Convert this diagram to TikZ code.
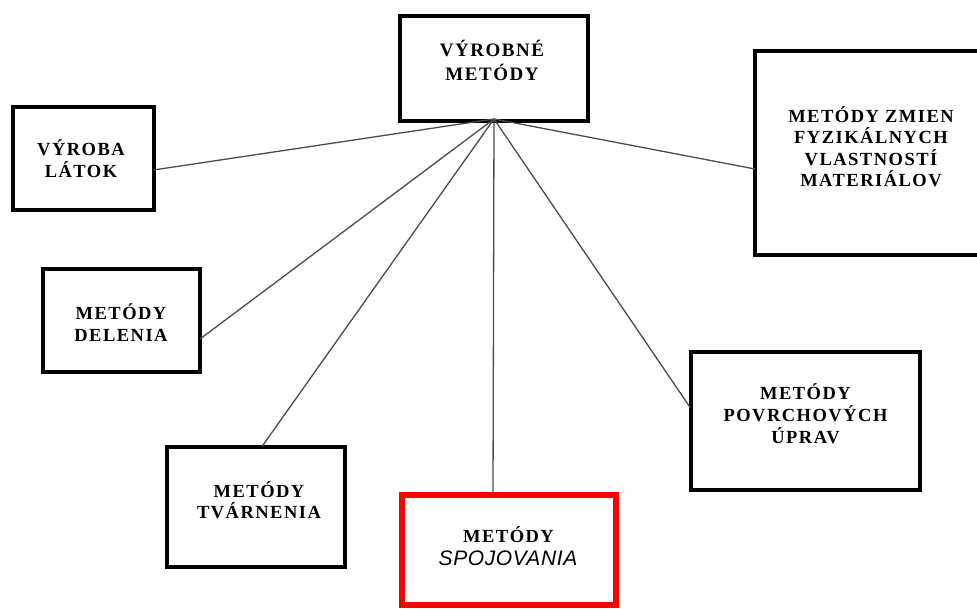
\documentclass[tikz,border=0pt]{standalone}
\usepackage{fontspec}
\setmainfont{Liberation Serif}[LetterSpace=8]
\newfontfamily\slantsans{Liberation Sans}[LetterSpace=3]
\usetikzlibrary{calc}

\begin{document}
\begin{tikzpicture}[x=1pt,y=-1pt,
  box/.style={draw=black, line width=4pt, fill=white, inner sep=0pt, outer sep=0pt},
  redbox/.style={box, draw={rgb,255:red,255;green,0;blue,0}, line width=6pt},
  boxtext/.style={align=center, inner sep=0pt, font=\bfseries\fontsize{18.5}{22}\selectfont},
  link/.style={draw=black!70, line width=1.3pt}]

  \fill[white] (0,0) rectangle (977,608);
  \useasboundingbox (0,0) rectangle (977,608);

  % boxes
  \node[box, minimum width=188pt, minimum height=105pt] (top) at (494,68.5) {};
  \node[box, minimum width=141pt, minimum height=103pt] (latok) at (83,158.5) {};
  \node[box, minimum width=232pt, minimum height=204.5pt] (zmien) at (871,153) {};
  \node[box, minimum width=157pt, minimum height=103pt] (delenia) at (121.5,320.5) {};
  \node[box, minimum width=229pt, minimum height=138pt] (povrch) at (805,421) {};
  \node[box, minimum width=177.5pt, minimum height=120pt] (tvar) at (256,506.5) {};
  \node[redbox, minimum width=214.5pt, minimum height=109.5pt] (spoj) at (509,550) {};

  % texts
  \node[boxtext, font=\bfseries\fontsize{19}{24}\selectfont] (ttop) at (492,60.5) {VÝROBNÉ\\METÓDY};
  \node[boxtext] (tlatok) at (81,159) {VÝROBA\\LÁTOK};
  \node[boxtext, font=\bfseries\fontsize{18.5}{21.5}\selectfont] (tzmien) at (871,146.5)
    {METÓDY ZMIEN\\FYZIKÁLNYCH\\VLASTNOSTÍ\\MATERIÁLOV};
  \node[boxtext] (tdelenia) at (121,322.5) {METÓDY\\DELENIA};
  \node[boxtext] (tpovrch) at (805.5,414) {METÓDY\\POVRCHOVÝCH\\ÚPRAV};
  \node[boxtext, font=\bfseries\fontsize{18.5}{20.5}\selectfont] (ttvar) at (259,500) {METÓDY\\TVÁRNENIA};
  \node[boxtext] (tspoj1) at (508.5,535) {METÓDY};
  \node[inner sep=0pt, font=\slantsans\itshape\fontsize{21}{24}\selectfont] (tspoj2) at (508,558) {SPOJOVANIA};

  % connectors from the common point under the top box
  \coordinate (hub) at ([yshift=2pt]top.south);
  \draw[link] (hub) -- ([yshift=-11.5pt]latok.east);
  \draw[link] (hub) -- ([yshift=-18.5pt]delenia.east);
  \draw[link] (hub) -- ([xshift=6pt]tvar.north);
  \draw[link] (hub) -- ([xshift=-16pt]spoj.north);
  \draw[link] (hub) -- ([yshift=13pt]povrch.west);
  \draw[link] (hub) -- ([yshift=-16pt]zmien.west);
\end{tikzpicture}
\end{document}
